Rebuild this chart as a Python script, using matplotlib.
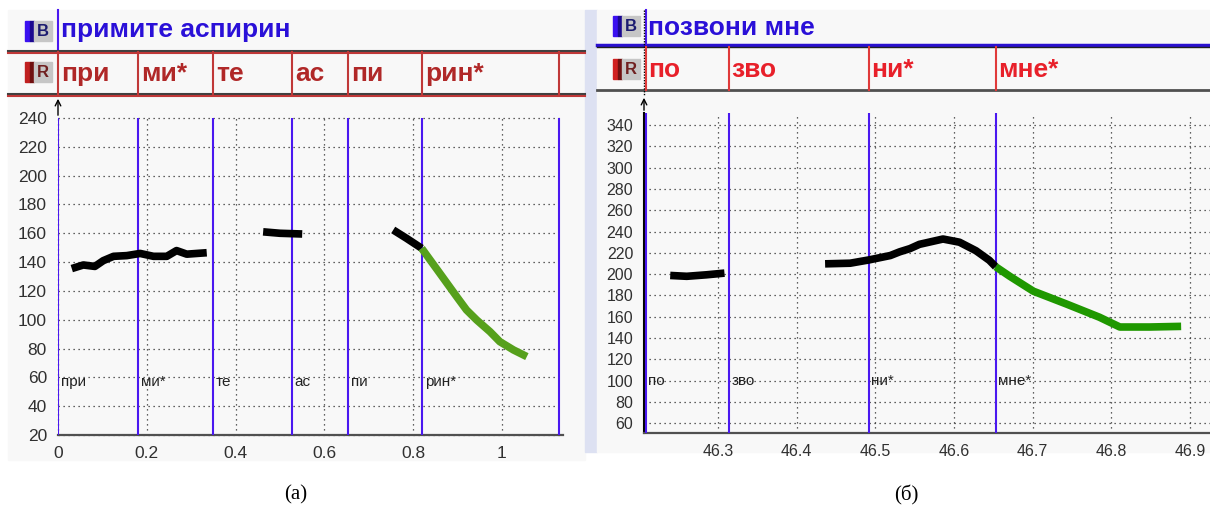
import matplotlib.pyplot as plt
from matplotlib.patches import Rectangle
from matplotlib.transforms import blended_transform_factory, offset_copy

plt.rcParams['font.family'] = ['Liberation Sans', 'DejaVu Sans']

# panel (а): "примите аспирин", time in s, F0 in Hz
a_title = 'примите аспирин'
a_syll = ['при', 'ми*', 'те', 'ас', 'пи', 'рин*']
a_bounds = [0.0, 0.18, 0.349, 0.527, 0.653, 0.82, 1.128]
a_seg1_t = [0.031, 0.057, 0.083, 0.102, 0.125, 0.155, 0.185, 0.215, 0.245, 0.267, 0.290, 0.335]
a_seg1_f = [135.5, 138, 137, 141, 144, 144.5, 146, 144, 144, 148, 145.5, 146.5]
a_seg2_t = [0.462, 0.50, 0.55]
a_seg2_f = [161, 160, 159.5]
a_seg3_t = [0.755, 0.785, 0.819]
a_seg3_f = [162.3, 156.5, 149.6]
a_acc_t = [0.819, 0.860, 0.898, 0.920, 0.943, 0.973, 0.995, 1.026, 1.056]
a_acc_f = [149.6, 132.2, 116, 106.8, 99.8, 91.7, 84.8, 79, 74.4]
a_xticks = [0, 0.2, 0.4, 0.6, 0.8, 1.0]
a_xticklabels = ['0', '0.2', '0.4', '0.6', '0.8', '1']
a_yticks = list(range(20, 241, 20))

# panel (б): "позвони мне"
b_title = 'позвони мне'
b_syll = ['по', 'зво', 'ни*', 'мне*']
b_bounds = [46.208, 46.314, 46.492, 46.653]
b_seg1_t = [46.239, 46.260, 46.285, 46.308]
b_seg1_f = [198.8, 198, 199.4, 201]
b_seg2_t = [46.436, 46.468, 46.492, 46.519, 46.531, 46.544, 46.556, 46.586, 46.607, 46.628, 46.645, 46.653]
b_seg2_f = [209.7, 210.3, 213.4, 217.5, 221, 224, 228, 233, 230, 222, 213, 207]
b_acc_t = [46.653, 46.671, 46.701, 46.743, 46.785, 46.811, 46.849, 46.889]
b_acc_f = [207, 198, 184, 172, 159.6, 150.4, 150.4, 151]
b_xticks = [46.3, 46.4, 46.5, 46.6, 46.7, 46.8, 46.9]
b_yticks = list(range(60, 341, 20))

W, H = 1210, 512
blue = '#4a18f0'
fig = plt.figure(figsize=(W / 100, H / 100), dpi=100)
fig.patch.set_facecolor('white')

bg = fig.add_axes([0, 0, 1, 1], zorder=0)
bg.set_xlim(0, W)
bg.set_ylim(H, 0)
bg.axis('off')


def px_axes(x0, y0, x1, y1):
    ax = fig.add_axes([x0 / W, 1 - y1 / H, (x1 - x0) / W, (y1 - y0) / H], zorder=1)
    ax.set_facecolor('none')
    return ax


def icon(x, y, letter, bar, dark, txt):
    bg.add_patch(Rectangle((x, y), 5, 20, color=bar))
    bg.add_patch(Rectangle((x + 5, y), 4, 20, color=dark))
    bg.add_patch(Rectangle((x + 9, y), 18, 20, color='#c6c6c6'))
    bg.text(x + 18, y + 10.5, letter, ha='center', va='center', fontsize=12,
            fontweight='bold', color=txt)


def style_axes(ax, left_color, fs):
    for s in ['top', 'right']:
        ax.spines[s].set_visible(False)
    ax.spines['bottom'].set_color('#505050')
    ax.spines['bottom'].set_linewidth(1.6)
    ax.spines['left'].set_color(left_color)
    ax.spines['left'].set_linewidth(1.5)
    ax.grid(True, ls=(0, (1, 3)), color='#303030', lw=0.9)
    for gl in ax.get_ygridlines() + ax.get_xgridlines():
        gl.set_clip_on(False)
    ax.tick_params(length=0, labelsize=fs, labelcolor='#303030', pad=8)


# backgrounds
bg.add_patch(Rectangle((8, 10), 577, 450, color='#f8f8f8'))
bg.add_patch(Rectangle((585, 10), 12, 442, color='#dde1f2'))
bg.add_patch(Rectangle((597, 10), 613, 442, color='#f8f8f8'))

# ---------- panel (а) ----------
axA = px_axes(58, 118, 563, 435)
axA.set_xlim(0, 505 / 444)
axA.set_ylim(20, 240)
axA.set_xticks(a_xticks)
axA.set_xticklabels(a_xticklabels)
axA.set_yticks(a_yticks)
style_axes(axA, blue, 12.5)
axA.spines['left'].set_visible(False)
axA.vlines(a_bounds, 20, 240, color=blue, lw=1.5, zorder=3)
for t, f, c in [(a_seg1_t, a_seg1_f, 'black'), (a_seg2_t, a_seg2_f, 'black'),
                (a_seg3_t, a_seg3_f, 'black'), (a_acc_t, a_acc_f, '#56a01c')]:
    axA.plot(t, f, color=c, lw=5.5, solid_capstyle='butt', zorder=4)
for b, s in zip(a_bounds, a_syll):
    axA.text(b + 0.006, 57, s, fontsize=11, color='#222222', va='center', zorder=5)

blendA = blended_transform_factory(axA.transData, bg.transData)
offA = offset_copy(blendA, fig=fig, x=3, y=0, units='dots')
icon(25, 21, 'B', '#3a10f0', '#1a0890', '#1c1c70')
icon(25, 62, 'R', '#c02020', '#701010', '#702020')
bg.plot([0, 0], [10, 52], transform=blendA, color=blue, lw=1.5)
bg.text(0, 30, a_title, transform=offA, fontsize=19, fontweight='bold',
        color='#2a10d8', va='center')
for y in [52, 95]:
    bg.plot([8, 585], [y - 1, y - 1], color='#404040', lw=1.5)
    bg.plot([8, 585], [y + 1, y + 1], color='#c03838', lw=1.5)
for b in a_bounds:
    bg.plot([b, b], [52, 95], transform=blendA, color='#c03838', lw=1.5)
for b, s in zip(a_bounds, a_syll):
    bg.text(b, 74, s, transform=offA, fontsize=19, fontweight='bold',
            color='#b02828', va='center')
bg.annotate('', xy=(0, 96), xytext=(0, 118), xycoords=blendA, textcoords=blendA,
            arrowprops=dict(arrowstyle='->', lw=1, color='black'))

# ---------- panel (б) ----------
axB = px_axes(644.3, 113, 1210, 433)
axB.set_xlim(46.206, 46.206 + (1210 - 644.3) / 786)
axB.set_ylim(50.9, 351.3)
axB.set_xticks(b_xticks)
axB.set_yticks(b_yticks)
style_axes(axB, 'black', 11.5)
axB.vlines(b_bounds, 50.9, 351.3, color=blue, lw=1.5, zorder=3)
for t, f, c in [(b_seg1_t, b_seg1_f, 'black'), (b_seg2_t, b_seg2_f, 'black'),
                (b_acc_t, b_acc_f, '#1f9800')]:
    axB.plot(t, f, color=c, lw=5.5, solid_capstyle='butt', zorder=4)
for b, s in zip(b_bounds, b_syll):
    axB.text(b + 0.003, 100, s, fontsize=11, color='#222222', va='center', zorder=5)

blendB = blended_transform_factory(axB.transData, bg.transData)
offB = offset_copy(blendB, fig=fig, x=2, y=0, units='dots')
icon(613, 16, 'B', '#3a10f0', '#1a0890', '#1c1c70')
icon(613, 59, 'R', '#d02020', '#701010', '#702020')
bg.plot([597, 1210], [44.5, 44.5], color='#2a10d0', lw=2.5)
bg.plot([597, 1210], [47, 47], color='#202020', lw=1)
bg.plot([597, 1210], [90, 90], color='#505050', lw=2)
bg.plot([b_bounds[0], b_bounds[0]], [10, 44], transform=blendB, color=blue, lw=1.5)
bg.plot([644, 644], [10, 95], color='black', lw=1, ls=(0, (1, 1)))
for b in b_bounds:
    bg.plot([b, b], [47, 90], transform=blendB, color='#e03a3a', lw=1.5)
bg.text(b_bounds[0], 28, b_title, transform=offB, fontsize=19, fontweight='bold',
        color='#2a10d8', va='center')
for b, s in zip(b_bounds, b_syll):
    bg.text(b, 70, s, transform=offB, fontsize=19, fontweight='bold',
            color='#e8202a', va='center')
bg.annotate('', xy=(644, 95), xytext=(644, 113),
            arrowprops=dict(arrowstyle='->', lw=1, color='black'))

# captions
bg.text(296, 495, '(а)', family='Liberation Serif', fontsize=15, ha='center', va='center')
bg.text(906, 495, '(б)', family='Liberation Serif', fontsize=15, ha='center', va='center')

fig.savefig('out.png', dpi=100)
